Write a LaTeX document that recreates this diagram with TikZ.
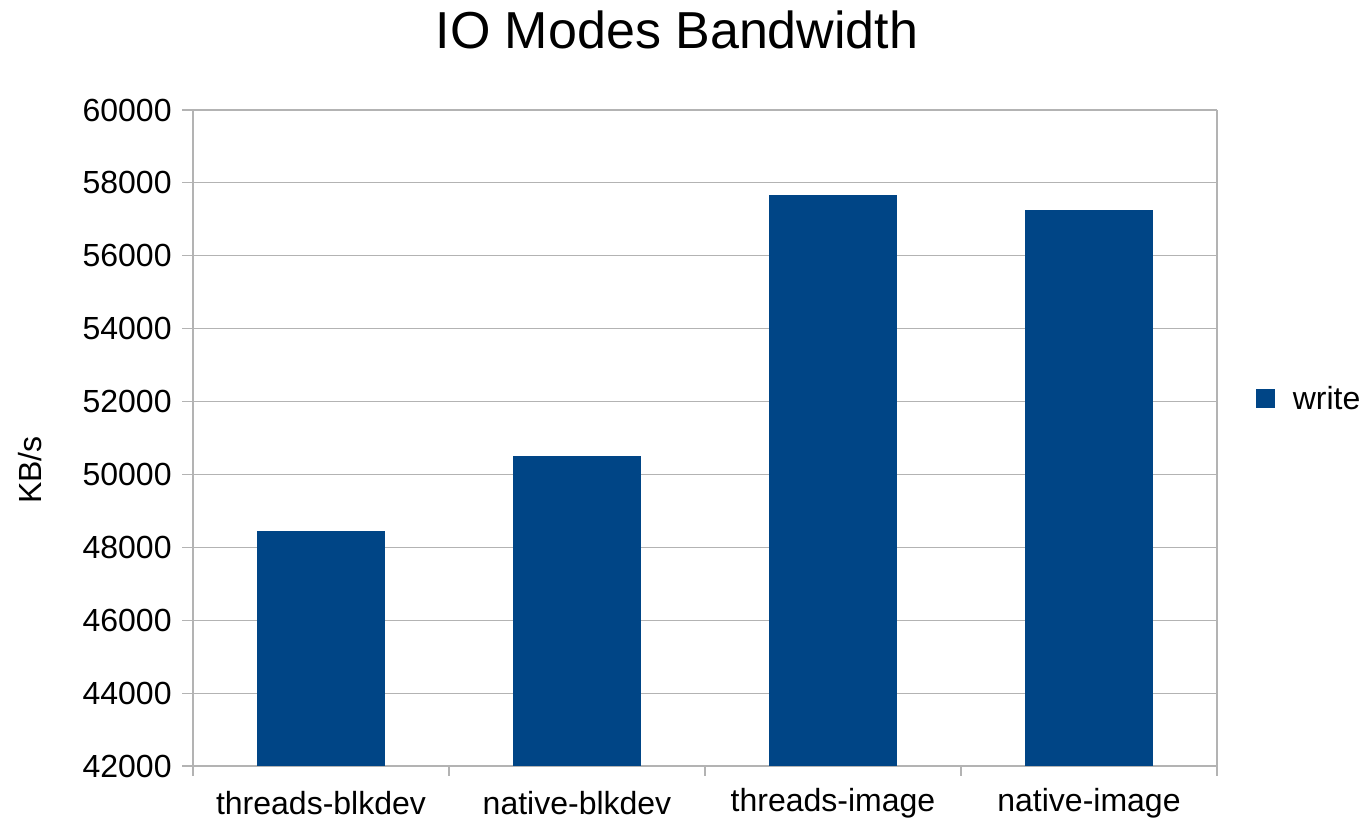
\documentclass[tikz,border=0pt]{standalone}
\usepackage{fontspec}
\setmainfont{Liberation Sans}
\usetikzlibrary{positioning}

\definecolor{barblue}{HTML}{004586}
\definecolor{gridgray}{HTML}{B3B3B3}

\begin{document}
\begin{tikzpicture}[x=0.5pt, y=0.5pt,
    gridline/.style={draw=gridgray, line width=0.6pt},
    ticklabel/.style={anchor=east, inner sep=0pt, font=\fontsize{16}{19}\selectfont},
    catlabel/.style={inner sep=0pt, font=\fontsize{16}{19}\selectfont},
    bar/.style={fill=barblue}]
    \useasboundingbox (0,0) rectangle (1365,820);

    % grid and value labels (values in thousands)
    \foreach \v in {42,44,...,60} {
        \pgfmathsetmacro{\yy}{54+(\v-42)/18*656}
        \draw [gridline] (182,\yy) -- (1217,\yy);
        \node [ticklabel] (tick\v) at (172,\yy) {\v000};
    }

    % frame and category ticks
    \draw [gridline] (193,710) -- (193,44);
    \draw [gridline] (1217,710) -- (1217,44);
    \foreach \x in {449,705,961} {
        \draw [gridline] (\x,54) -- (\x,44);
    }

    % bars
    \foreach \c/\v/\name in {321/48.45/threads-blkdev, 577/50.51/native-blkdev,
                             833/57.67/threads-image, 1089/57.26/native-image} {
        \pgfmathsetmacro{\yy}{54+(\v-42)/18*656}
        \fill [bar] (\c-64,54) rectangle (\c+64,\yy);
        \node [catlabel] (cat\c) at (\c,17) {\name};
    }

    % title and axis name
    \node [font=\fontsize{26}{31}\selectfont] (title) at (677,790) {IO Modes Bandwidth};
    \node [font=\fontsize{16}{19}\selectfont, rotate=90] (ylabel) at (30,350) {KB/s};

    % legend
    \node [bar, minimum size=9.5pt, inner sep=0pt] (key) at (1265.5,421.5) {};
    \node [right=8.5pt of key, inner sep=0pt, font=\fontsize{16}{19}\selectfont] (keytext) {write};
\end{tikzpicture}
\end{document}
